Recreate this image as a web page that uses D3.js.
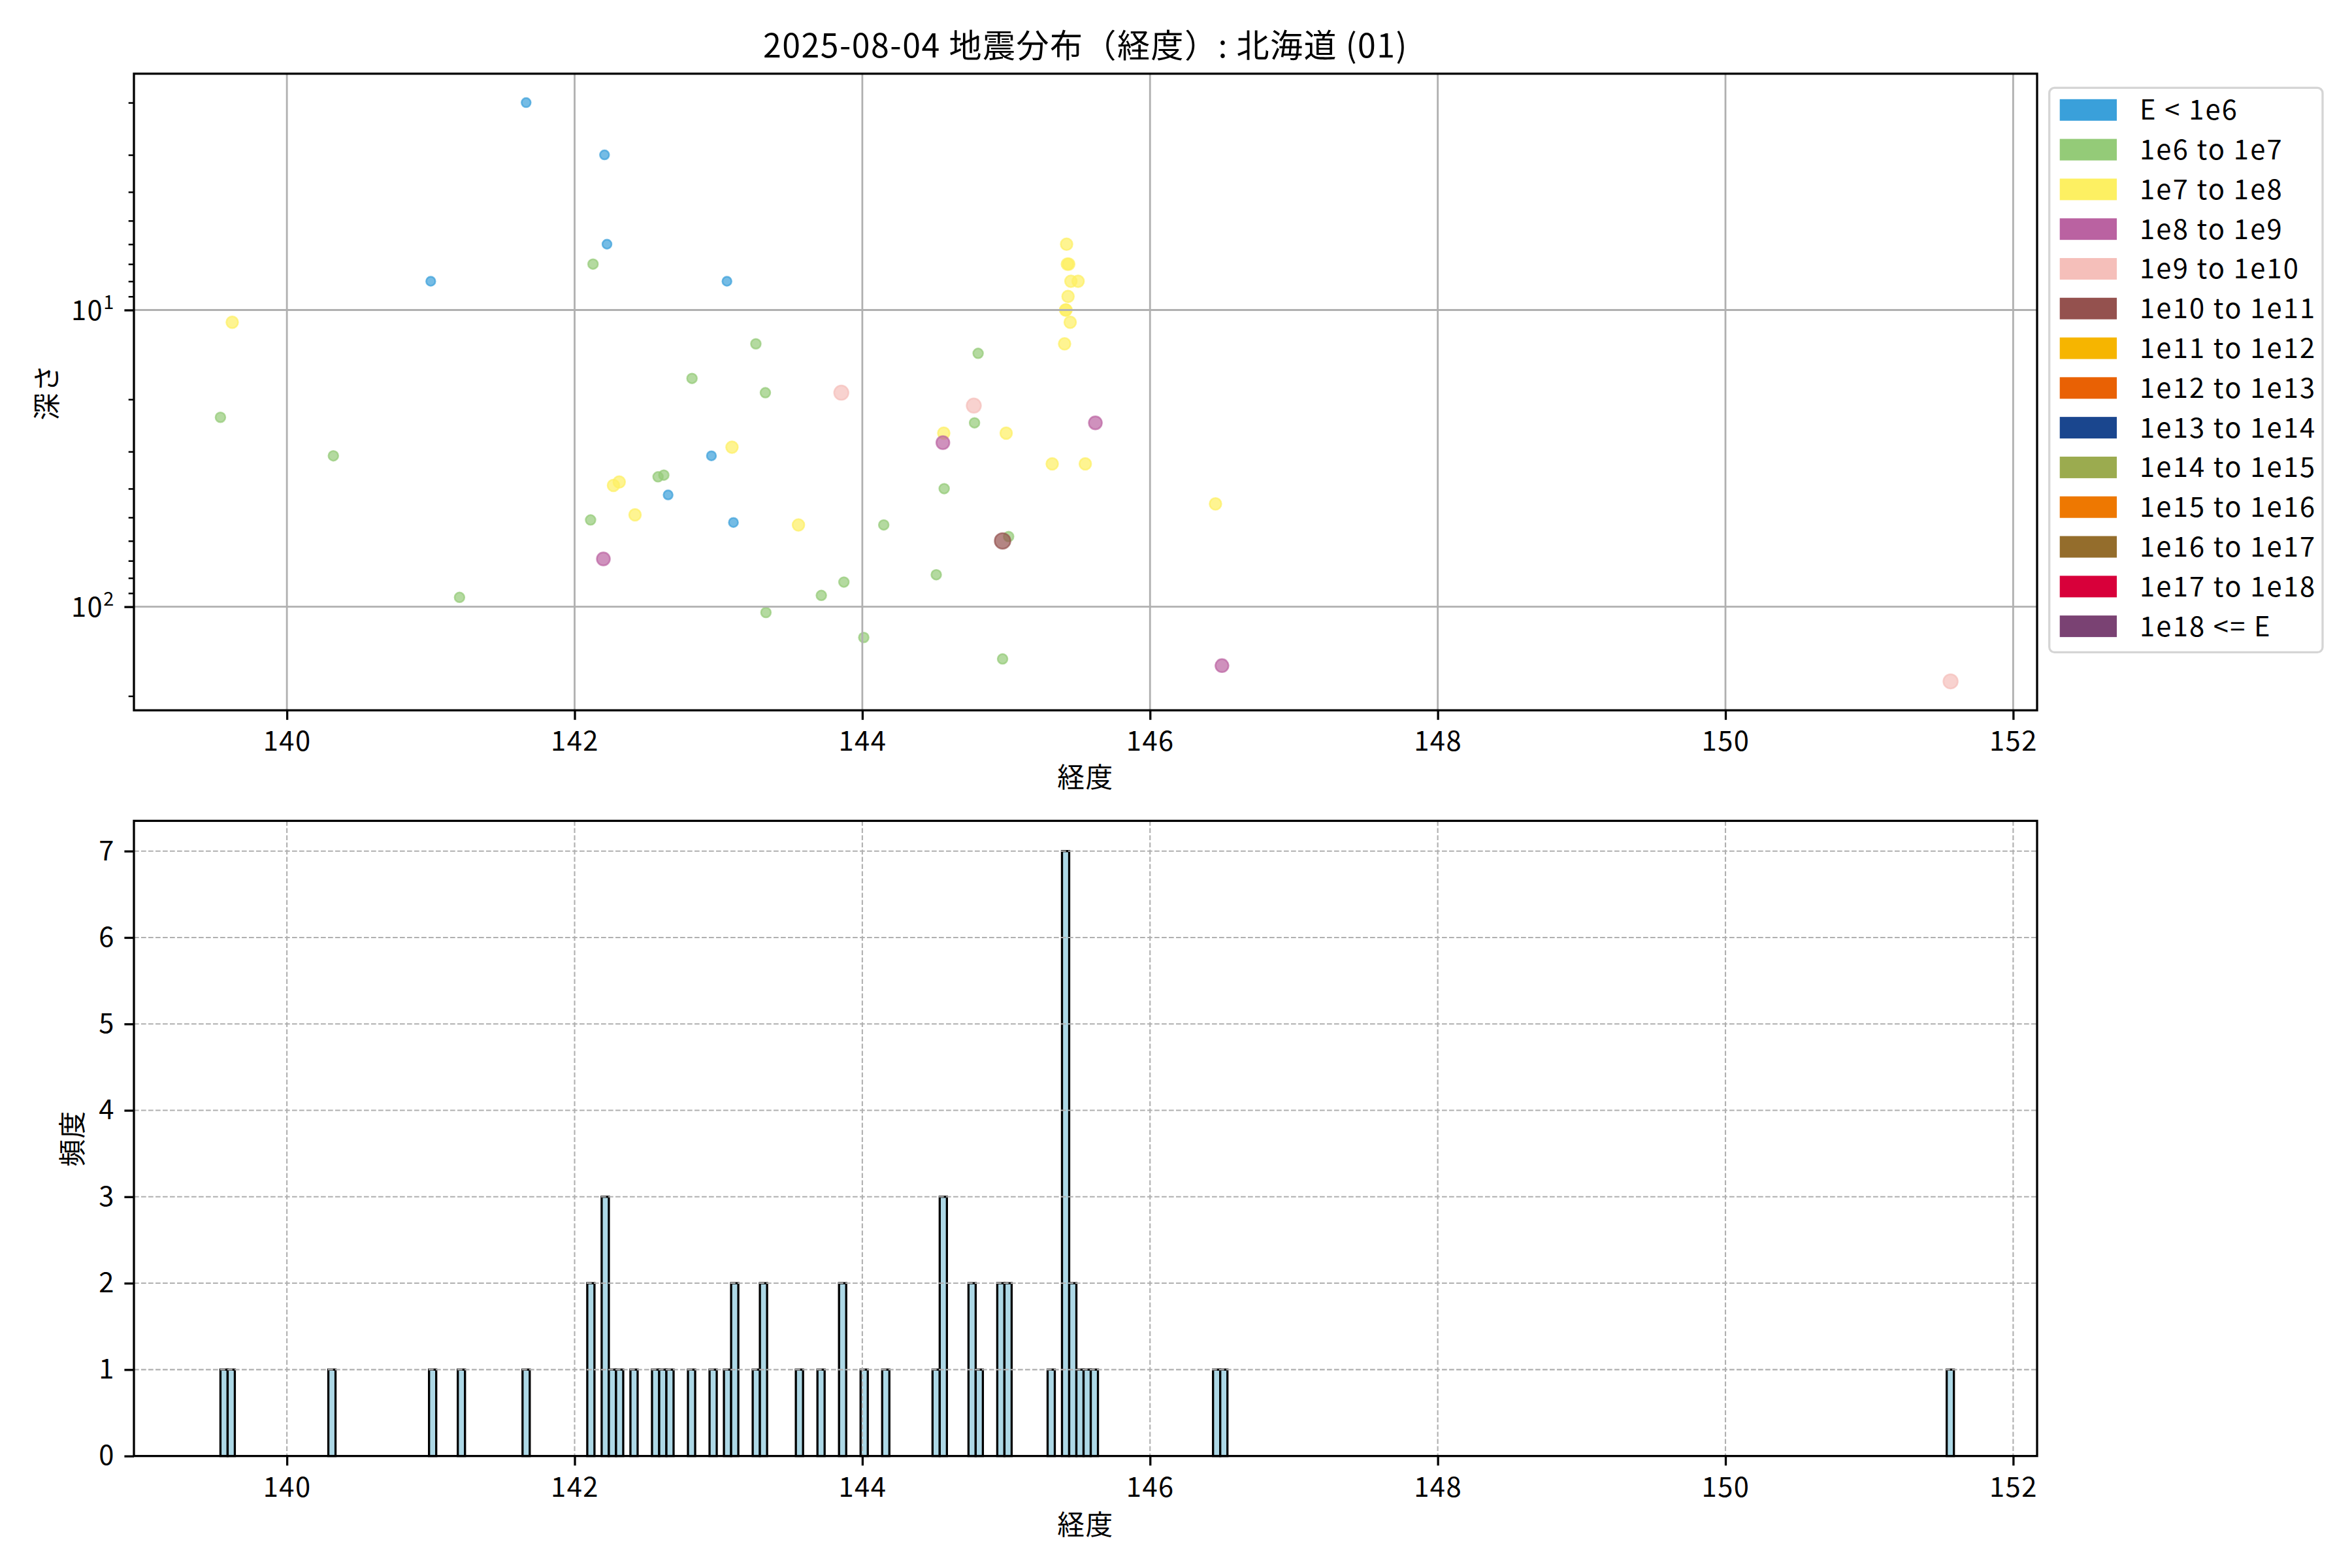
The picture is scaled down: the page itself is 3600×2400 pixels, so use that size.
<!DOCTYPE html>
<html><head><meta charset="utf-8">
<script src="https://cdn.jsdelivr.net/npm/d3@7"></script>
<style>
body{margin:0;background:#fff}
text{font-family:"Noto Sans CJK JP","Noto Sans",sans-serif;fill:#000;letter-spacing:1.5px}
</style>
</head><body>
<svg id="chart" width="3600" height="2400" xmlns="http://www.w3.org/2000/svg"></svg>
<script>
// ---------------- data ----------------
const titleText = "2025-08-04 地震分布（経度）: 北海道 (01)";
const xLabel = "経度";
const yLabelTop = "深さ";
const yLabelBottom = "頻度";

const classLabels = ["E < 1e6","1e6 to 1e7","1e7 to 1e8","1e8 to 1e9","1e9 to 1e10","1e10 to 1e11",
  "1e11 to 1e12","1e12 to 1e13","1e13 to 1e14","1e14 to 1e15","1e15 to 1e16","1e16 to 1e17",
  "1e17 to 1e18","1e18 <= E"];
const classColors = ["#3AA0DA","#94CB78","#FDF062","#BA62A1","#F5BFBA","#94514E","#F6B500",
  "#E96104","#1A468E","#9BAB4F","#EE7801","#946D2C","#D8003A","#7A4273"];

// longitude, depth (km), energy class index
const pointLon = [
  141.663,142.208,142.225,141.000,143.059,142.951,142.650,143.104,
  142.128,143.260,142.816,143.326,139.538,140.323,142.620,142.580,142.111,144.149,141.200,
  143.872,143.715,143.330,144.010,144.805,144.780,144.569,145.017,144.514,144.975,
  139.620,143.094,142.310,142.270,142.420,143.556,145.420,145.425,145.435,145.430,145.413,
  145.416,145.406,145.450,145.445,145.500,145.550,144.566,145.000,145.320,146.455,
  142.200,145.620,144.560,146.500,
  143.854,144.775,151.565,
  144.975
];
const pointDepth = [
  2.0,3.0,6.0,8.0,8.0,31,42,52,
  7,13,17,19,23,31,36,36.5,51,53,93,
  82.6,91.6,104.6,127,14,24,40,58,78,150,
  11,29,38,39,49,53,6,7,7,9,10,
  10,13,8,11,8,33,26,26,33,45,
  69,24,28,158,
  19,21,178.5,
  60
];
const pointClass = [
  0,0,0,0,0,0,0,0,
  1,1,1,1,1,1,1,1,1,1,1,
  1,1,1,1,1,1,1,1,1,1,
  2,2,2,2,2,2,2,2,2,2,2,
  2,2,2,2,2,2,2,2,2,2,
  3,3,3,3,
  4,4,4,
  5
];

const lonTicks = [140,142,144,146,148,150,152];
const depthTicks = [10,100];
const depthTickExp = ["1","2"];
const countTicks = [0,1,2,3,4,5,6,7];
const binWidth = 0.05;

// ---------------- layout ----------------
const W = 3600, H = 2400;
const L = 205, R = 3118;
const T1 = 112.8, B1 = 1087.2;
const T2 = 1256.4, B2 = 2228.6;
const FS = 41.7, TFS = 50;
const radiusByClass = [7, 7.5, 9, 10, 11, 12, 12, 12, 12, 12, 12, 12, 12, 12];

const svg = d3.select("#chart");
svg.append("rect").attr("width", W).attr("height", H).attr("fill", "#fff");

const points = pointLon.map((d, i) => ({lon: d, depth: pointDepth[i], cls: pointClass[i]}))
  .sort((a, b) => a.cls - b.cls);

// x scale (5% margins like matplotlib)
const lonMin = d3.min(pointLon), lonMax = d3.max(pointLon);
const xPad = (lonMax - lonMin) * 0.05;
const x = d3.scaleLinear().domain([lonMin - xPad, lonMax + xPad]).range([L, R]);

// y log scale, inverted (depth increases downward)
const lmin = Math.log10(d3.min(pointDepth)), lmax = Math.log10(d3.max(pointDepth));
const lPad = (lmax - lmin) * 0.05;
const y = d3.scaleLog().domain([Math.pow(10, lmin - lPad), Math.pow(10, lmax + lPad)]).range([T1, B1]);

function styleAxis(g) {
  g.select(".domain").remove();
  g.selectAll(".tick line").attr("stroke", "#000").attr("stroke-width", 3.3);
  g.selectAll(".tick text").attr("font-size", FS).attr("fill", "#000")
    .style("font-family", '"Noto Sans CJK JP","Noto Sans",sans-serif');
}

// ---------------- top panel ----------------
const topG = svg.append("g");

topG.append("g").selectAll("circle").data(points).join("circle")
  .attr("cx", d => x(d.lon)).attr("cy", d => y(d.depth))
  .attr("r", d => radiusByClass[d.cls])
  .attr("fill", d => classColors[d.cls]).attr("fill-opacity", 0.7)
  .attr("stroke", d => classColors[d.cls]).attr("stroke-opacity", 0.7)
  .attr("stroke-width", 2.5);

const gTop = topG.append("g");
gTop.selectAll("line.vx").data(lonTicks).join("line")
  .attr("x1", d => x(d)).attr("x2", d => x(d)).attr("y1", T1).attr("y2", B1)
  .attr("stroke", "#b0b0b0").attr("stroke-width", 2.8);
gTop.selectAll("line.hy").data(depthTicks).join("line")
  .attr("x1", L).attr("x2", R).attr("y1", d => y(d)).attr("y2", d => y(d))
  .attr("stroke", "#b0b0b0").attr("stroke-width", 2.8);

const xAxisTop = topG.append("g").attr("transform", `translate(0,${B1})`)
  .call(d3.axisBottom(x).tickValues(lonTicks).tickFormat(d3.format("d")).tickSize(14.6).tickPadding(18));
styleAxis(xAxisTop);

const yAxisTop = topG.append("g").attr("transform", `translate(${L},0)`)
  .call(d3.axisLeft(y).tickValues(depthTicks).tickSize(14.6).tickPadding(14.6).tickFormat(() => ""));
styleAxis(yAxisTop);
yAxisTop.selectAll(".tick text").each(function(d, i) {
  const t = d3.select(this);
  t.text(null).attr("font-size", FS).attr("dy", "0.35em");
  t.append("tspan").text("10");
  t.append("tspan").attr("font-size", 29).attr("dy", -17).text(depthTickExp[i]);
});

const [dlo, dhi] = y.domain();
const minorVals = [];
[1, 10, 100].forEach(dec => { for (let m = 2; m <= 9; m++) { const v = m * dec; if (v > dlo && v < dhi) minorVals.push(v); } });
const yMinor = topG.append("g").attr("transform", `translate(${L},0)`)
  .call(d3.axisLeft(y).tickValues(minorVals).tickSize(8.3).tickFormat(() => ""));
yMinor.select(".domain").remove();
yMinor.selectAll(".tick line").attr("stroke", "#000").attr("stroke-width", 2.5);

topG.append("rect").attr("x", L).attr("y", T1).attr("width", R - L).attr("height", B1 - T1)
  .attr("fill", "none").attr("stroke", "#000").attr("stroke-width", 3.3);

svg.append("text").attr("x", (L + R) / 2).attr("y", 88).attr("text-anchor", "middle")
  .attr("font-size", TFS).text(titleText);
svg.append("text").attr("x", (L + R) / 2).attr("y", 1205).attr("text-anchor", "middle")
  .attr("font-size", FS).text(xLabel);
svg.append("text").attr("transform", `translate(69,${(T1 + B1) / 2}) rotate(-90)`)
  .attr("text-anchor", "middle").attr("dominant-baseline", "central")
  .attr("font-size", FS).text(yLabelTop);

// legend
const lg = svg.append("g");
lg.append("rect").attr("x", 3136.7).attr("y", 134.4).attr("width", 418.3).attr("height", 864)
  .attr("rx", 8).attr("fill", "#fff").attr("stroke", "#d5d5d5").attr("stroke-width", 3.3);
const rowY = d3.scaleLinear().domain([0, classLabels.length - 1]).range([168.3, 958.6]);
const lgRows = lg.selectAll("g.row").data(classLabels).join("g");
lgRows.append("rect").attr("x", 3152.7).attr("y", (d, i) => rowY(i) - 16.5)
  .attr("width", 87.3).attr("height", 33).attr("fill", (d, i) => classColors[i]);
lgRows.append("text").attr("x", 3275).attr("y", (d, i) => rowY(i) + 15)
  .attr("font-size", FS).style("letter-spacing", "2.2px").text(d => d);

// ---------------- bottom panel (histogram) ----------------
const nBins = Math.ceil((lonMax - lonMin) / binWidth);
const thresholds = d3.range(1, nBins).map(k => lonMin + k * binWidth);
const bins = d3.bin().domain([lonMin, lonMin + nBins * binWidth]).thresholds(thresholds)(pointLon);
const yc = d3.scaleLinear().domain([0, d3.max(bins, b => b.length) * 1.05]).range([B2, T2]);

const botG = svg.append("g");
botG.append("g").selectAll("rect").data(bins.filter(b => b.length > 0)).join("rect")
  .attr("x", b => x(b.x0)).attr("width", b => x(b.x1) - x(b.x0))
  .attr("y", b => yc(b.length)).attr("height", b => yc(0) - yc(b.length))
  .attr("fill", "#add8e6").attr("stroke", "#000").attr("stroke-width", 3.3);

const gBot = botG.append("g");
gBot.selectAll("line.vx").data(lonTicks).join("line")
  .attr("x1", d => x(d)).attr("x2", d => x(d)).attr("y1", T2).attr("y2", B2)
  .attr("stroke", "#b0b0b0").attr("stroke-width", 2.1).attr("stroke-dasharray", "7.7,3.3");
gBot.selectAll("line.hy").data(countTicks).join("line")
  .attr("x1", L).attr("x2", R).attr("y1", d => yc(d)).attr("y2", d => yc(d))
  .attr("stroke", "#b0b0b0").attr("stroke-width", 2.1).attr("stroke-dasharray", "7.7,3.3");

const xAxisBot = botG.append("g").attr("transform", `translate(0,${B2})`)
  .call(d3.axisBottom(x).tickValues(lonTicks).tickFormat(d3.format("d")).tickSize(14.6).tickPadding(18));
styleAxis(xAxisBot);
const yAxisBot = botG.append("g").attr("transform", `translate(${L},0)`)
  .call(d3.axisLeft(yc).tickValues(countTicks).tickFormat(d3.format("d")).tickSize(14.6).tickPadding(14.6));
styleAxis(yAxisBot);

botG.append("rect").attr("x", L).attr("y", T2).attr("width", R - L).attr("height", B2 - T2)
  .attr("fill", "none").attr("stroke", "#000").attr("stroke-width", 3.3);

svg.append("text").attr("x", (L + R) / 2).attr("y", 2349).attr("text-anchor", "middle")
  .attr("font-size", FS).text(xLabel);
svg.append("text").attr("transform", `translate(108,${(T2 + B2) / 2}) rotate(-90)`)
  .attr("text-anchor", "middle").attr("dominant-baseline", "central")
  .attr("font-size", FS).text(yLabelBottom);
</script>
</body></html>
